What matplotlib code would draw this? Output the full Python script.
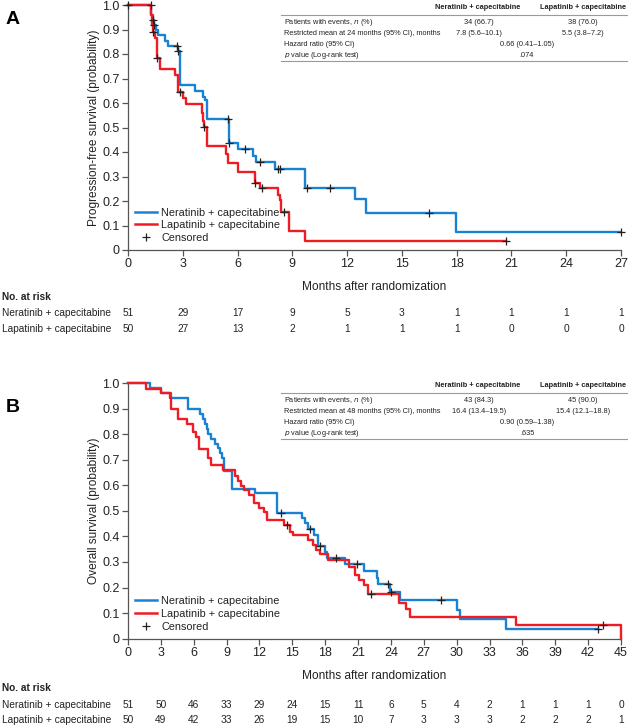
import matplotlib
matplotlib.use("Agg")
import matplotlib.pyplot as plt
from matplotlib.lines import Line2D
from matplotlib.transforms import blended_transform_factory

plt.rcParams["font.family"] = ["Liberation Sans", "DejaVu Sans"]

BLUE = "#1a82d2"
RED = "#ee1d25"
W, H = 628, 725

# ── Panel A: progression-free survival ──────────────────────────────────────
pfs_nera_t = [0, 1.24, 1.35, 1.42, 1.51, 1.66, 2.03, 2.2, 2.76, 2.85, 3.67, 4.12, 4.2, 4.3,
              5.55, 6.0, 6.83, 7.01, 8.05, 9.7, 12.43, 13.03, 17.96, 27]
pfs_nera_s = [1.0, 0.96, 0.94, 0.92, 0.898, 0.878, 0.854, 0.834, 0.814, 0.673, 0.65, 0.626, 0.612, 0.533,
              0.435, 0.411, 0.384, 0.358, 0.329, 0.254, 0.207, 0.152, 0.075, 0.075]
pfs_nera_cens_t = [0, 1.24, 1.35, 1.42, 2.66, 2.76, 5.49, 5.55, 6.41, 7.23, 8.2, 8.32, 9.79, 11.06, 16.5, 27]
pfs_nera_cens_s = [1.0, 1.0, 0.94, 0.92, 0.834, 0.814, 0.533, 0.435, 0.411, 0.358, 0.329, 0.329, 0.254, 0.254, 0.152, 0.075]

pfs_lapa_t = [0, 1.24, 1.3, 1.35, 1.48, 1.57, 1.75, 2.57, 2.75, 3.03, 3.16, 4.07, 4.12, 4.16, 4.3,
              5.36, 5.5, 6.0, 6.95, 7.25, 8.24, 8.3, 8.4, 8.83, 9.7, 20.7]
pfs_lapa_s = [1.0, 0.96, 0.92, 0.89, 0.864, 0.782, 0.737, 0.714, 0.646, 0.622, 0.594, 0.558, 0.528, 0.503, 0.426,
              0.392, 0.354, 0.32, 0.275, 0.252, 0.224, 0.204, 0.156, 0.078, 0.038, 0.038]
pfs_lapa_cens_t = [1.35, 1.6, 2.85, 4.18, 6.95, 7.32, 8.56, 20.7]
pfs_lapa_cens_s = [0.89, 0.782, 0.646, 0.503, 0.275, 0.252, 0.156, 0.038]

pfs_ticks = [0, 3, 6, 9, 12, 15, 18, 21, 24, 27]
pfs_risk_nera = [51, 29, 17, 9, 5, 3, 1, 1, 1, 1]
pfs_risk_lapa = [50, 27, 13, 2, 1, 1, 1, 0, 0, 0]

pfs_table = [
    ("Patients with events, $\\it{n}$ (%)", "34 (66.7)", "38 (76.0)"),
    ("Restricted mean at 24 months (95% CI), months", "7.8 (5.6\u201310.1)", "5.5 (3.8\u20137.2)"),
    ("Hazard ratio (95% CI)", "0.66 (0.41\u20131.05)", None),
    ("$\\it{p}$ value (Log-rank test)", ".074", None),
]

# ── Panel B: overall survival ───────────────────────────────────────────────
os_nera_t = [0, 2.05, 3.0, 3.95, 5.5, 6.6, 6.85, 7.0, 7.17, 7.3, 7.57, 7.9, 8.2, 8.4, 8.6, 8.8, 9.5,
             11.6, 13.57, 15.85, 16.15, 16.4, 17.0, 17.3, 17.97, 18.2, 19.8, 21.5, 22.7, 22.85, 23.9,
             24.8, 30.0, 30.3, 34.5, 42.9]
os_nera_s = [1.0, 0.98, 0.96, 0.94, 0.90, 0.88, 0.86, 0.84, 0.82, 0.80, 0.78, 0.76, 0.745, 0.725, 0.705, 0.655, 0.585,
             0.569, 0.49, 0.471, 0.451, 0.428, 0.406, 0.363, 0.34, 0.314, 0.292, 0.266, 0.239, 0.214, 0.181,
             0.151, 0.112, 0.076, 0.037, 0.037]
os_nera_cens_t = [14.0, 16.6, 17.5, 18.98, 20.9, 23.75, 24.05, 28.6, 42.9]
os_nera_cens_s = [0.49, 0.428, 0.363, 0.314, 0.292, 0.214, 0.181, 0.151, 0.037]

os_lapa_t = [0, 1.6, 3.0, 3.8, 3.95, 4.6, 5.35, 5.95, 6.25, 6.45, 7.3, 7.6, 8.7, 9.75, 10.05, 10.3, 10.6,
             11.0, 11.5, 12.0, 12.4, 12.7, 14.2, 14.8, 15.1, 16.45, 16.9, 17.2, 17.5, 18.3, 20.2, 20.7,
             21.1, 21.5, 21.9, 24.75, 25.4, 25.7, 35.4, 45]
os_lapa_s = [1.0, 0.977, 0.961, 0.94, 0.90, 0.861, 0.84, 0.81, 0.79, 0.74, 0.708, 0.68, 0.66, 0.636, 0.617, 0.597, 0.58,
             0.562, 0.53, 0.51, 0.497, 0.464, 0.445, 0.419, 0.405, 0.386, 0.366, 0.347, 0.331, 0.308, 0.282, 0.249,
             0.23, 0.21, 0.175, 0.141, 0.115, 0.083, 0.053, 0.0]
os_lapa_cens_t = [14.5, 22.2, 43.4]
os_lapa_cens_s = [0.445, 0.175, 0.053]

os_ticks = [0, 3, 6, 9, 12, 15, 18, 21, 24, 27, 30, 33, 36, 39, 42, 45]
os_risk_nera = [51, 50, 46, 33, 29, 24, 15, 11, 6, 5, 4, 2, 1, 1, 1, 0]
os_risk_lapa = [50, 49, 42, 33, 26, 19, 15, 10, 7, 3, 3, 3, 2, 2, 2, 1]

os_table = [
    ("Patients with events, $\\it{n}$ (%)", "43 (84.3)", "45 (90.0)"),
    ("Restricted mean at 48 months (95% CI), months", "16.4 (13.4\u201319.5)", "15.4 (12.1\u201318.8)"),
    ("Hazard ratio (95% CI)", "0.90 (0.59\u20131.38)", None),
    ("$\\it{p}$ value (Log-rank test)", ".635", None),
]

y_ticks = [0, 0.1, 0.2, 0.3, 0.4, 0.5, 0.6, 0.7, 0.8, 0.9, 1.0]
y_labels = ["0", "0.1", "0.2", "0.3", "0.4", "0.5", "0.6", "0.7", "0.8", "0.9", "1.0"]
arms = ["Neratinib + capecitabine", "Lapatinib + capecitabine"]
TXT = "#222222"
TABLE_FS = 5.3
RISK_FS = 7.3


def fx(px):
    return px / W


def fy(py):
    return 1 - py / H


def draw_panel(fig, rect, nera, lapa, ticks, ylabel, letter, letter_y):
    ax = fig.add_axes(rect)
    for (t, s, ct, cs), color in [(nera, BLUE), (lapa, RED)]:
        ax.plot(t, s, drawstyle="steps-post", color=color, lw=1.7, clip_on=False, zorder=3)
        ax.plot(ct, cs, ls="none", marker="+", ms=6, mew=0.9, color="#222222", clip_on=False, zorder=4)
    ax.set_xlim(ticks[0], ticks[-1])
    ax.set_ylim(0, 1.0)
    ax.set_xticks(ticks)
    ax.set_yticks(y_ticks)
    ax.set_yticklabels(y_labels)
    for sp in ["top", "right"]:
        ax.spines[sp].set_visible(False)
    for sp in ["left", "bottom"]:
        ax.spines[sp].set_color("#555555")
        ax.spines[sp].set_linewidth(0.9)
    ax.tick_params(labelsize=9, length=4, width=0.9, color="#555555", pad=2, labelcolor=TXT)
    ax.set_xlabel("Months after randomization", fontsize=8.6, labelpad=8, color=TXT)
    ax.set_ylabel(ylabel, fontsize=8.6, labelpad=2, color=TXT)
    handles = [Line2D([], [], color=BLUE, lw=1.8), Line2D([], [], color=RED, lw=1.8),
               Line2D([], [], ls="none", marker="+", ms=6, mew=0.9, color="#222222")]
    leg = ax.legend(handles, arms + ["Censored"], loc="lower left", bbox_to_anchor=(0.0, 0.0),
                    frameon=False, fontsize=7.8, handlelength=2.0, handletextpad=0.4,
                    labelspacing=0.25, borderaxespad=0.25)
    for txt in leg.get_texts():
        txt.set_color(TXT)
    fig.text(fx(13), fy(letter_y), letter, fontsize=14, fontweight="bold", ha="center", va="center")
    return ax


def draw_table(fig, rows, top):
    # top = pixel y of header row
    fig.text(fx(478), fy(top), arms[0], fontsize=TABLE_FS, fontweight="bold", ha="center", va="center", color=TXT)
    fig.text(fx(583), fy(top), arms[1], fontsize=TABLE_FS, fontweight="bold", ha="center", va="center", color=TXT)
    fig.add_artist(Line2D([fx(281), fx(627)], [fy(top + 7.5)] * 2, color="#9a9a9a", lw=0.8))
    for i, (label, v1, v2) in enumerate(rows):
        y = top + 15 + 11 * i
        fig.text(fx(284), fy(y), label, fontsize=TABLE_FS, ha="left", va="center", color=TXT)
        if v2 is None:
            fig.text(fx(527), fy(y), v1, fontsize=TABLE_FS, ha="center", va="center", color=TXT)
        else:
            fig.text(fx(479), fy(y), v1, fontsize=TABLE_FS, ha="center", va="center", color=TXT)
            fig.text(fx(583), fy(y), v2, fontsize=TABLE_FS, ha="center", va="center", color=TXT)
    fig.add_artist(Line2D([fx(281), fx(627)], [fy(top + 53.5)] * 2, color="#9a9a9a", lw=0.8))


def draw_risk(fig, ax, ticks, risk_n, risk_l, top):
    tr = blended_transform_factory(ax.transData, fig.transFigure)
    fig.text(fx(2), fy(top), "No. at risk", fontsize=RISK_FS, fontweight="bold", ha="left", va="center", color=TXT)
    for j, (name, vals) in enumerate([(arms[0], risk_n), (arms[1], risk_l)]):
        y = top + 16.5 + 15.5 * j
        fig.text(fx(2), fy(y), name, fontsize=RISK_FS, ha="left", va="center", color=TXT)
        for t, v in zip(ticks, vals):
            ax.text(t, fy(y), str(v), transform=tr, fontsize=RISK_FS, ha="center", va="center", color=TXT)


fig = plt.figure(figsize=(W / 100, H / 100), dpi=100)

axA = draw_panel(fig, [fx(128), fy(250), fx(621) - fx(128), fy(5) - fy(250)],
                 (pfs_nera_t, pfs_nera_s, pfs_nera_cens_t, pfs_nera_cens_s),
                 (pfs_lapa_t, pfs_lapa_s, pfs_lapa_cens_t, pfs_lapa_cens_s),
                 pfs_ticks, "Progression-free survival (probability)", "A", 19)
draw_table(fig, pfs_table, 7.5)
draw_risk(fig, axA, pfs_ticks, pfs_risk_nera, pfs_risk_lapa, 297)

axB = draw_panel(fig, [fx(128), fy(638.7), fx(621) - fx(128), fy(383) - fy(638.7)],
                 (os_nera_t, os_nera_s, os_nera_cens_t, os_nera_cens_s),
                 (os_lapa_t, os_lapa_s, os_lapa_cens_t, os_lapa_cens_s),
                 os_ticks, "Overall survival (probability)", "B", 407)
draw_table(fig, os_table, 385.5)
draw_risk(fig, axB, os_ticks, os_risk_nera, os_risk_lapa, 688)

fig.savefig("out.png", dpi=100)
